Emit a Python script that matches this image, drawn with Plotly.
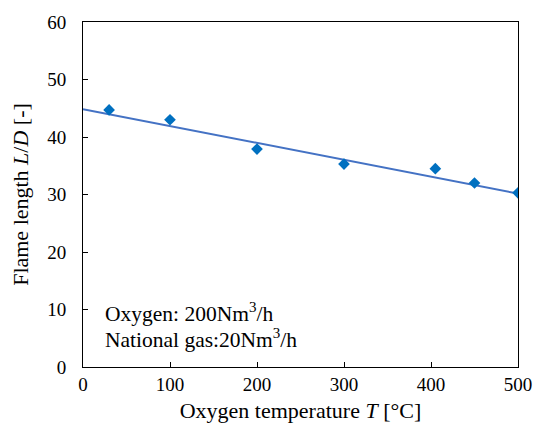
import plotly.graph_objects as go

temperature = [30, 100, 200, 300, 405, 450, 500]
flame_length = [44.7, 43.0, 37.9, 35.3, 34.5, 32.0, 30.3]
trend_x = [0, 500]
trend_y = [44.85, 30.15]   # linear trend line
x_ticks = [0, 100, 200, 300, 400, 500]
y_ticks = [0, 10, 20, 30, 40, 50, 60]

family = "Liberation Serif, Times New Roman, serif"
tick_font = dict(family=family, size=19, color="black")
title_font = dict(family=family, size=22, color="black")
note_font = dict(family=family, size=21.5, color="black")

fig = go.Figure()
fig.add_trace(go.Scatter(x=trend_x, y=trend_y, mode="lines",
                         line=dict(color="#4472C4", width=2), showlegend=False, hoverinfo="skip"))
fig.add_trace(go.Scatter(x=temperature, y=flame_length, mode="markers",
                         marker=dict(symbol="diamond", size=9, color="#0070C0"), showlegend=False))

fig.add_annotation(x=0.045, y=0.157, xref="paper", yref="paper", xanchor="left", yanchor="middle",
                   text="Oxygen: 200Nm<sup>3</sup>/h", showarrow=False, font=note_font)
fig.add_annotation(x=0.045, y=0.083, xref="paper", yref="paper", xanchor="left", yanchor="middle",
                   text="National gas:20Nm<sup>3</sup>/h", showarrow=False, font=note_font)

fig.update_layout(
    width=536, height=433,
    margin=dict(l=83, r=18, t=22, b=66),
    paper_bgcolor="white", plot_bgcolor="white",
    font=tick_font,
    xaxis=dict(range=[0, 500], tickvals=x_ticks, showgrid=False, zeroline=False,
               showline=True, linecolor="black", linewidth=1, mirror=True,
               ticks="inside", ticklen=5, tickcolor="black", automargin=False,
               tickfont=tick_font,
               title=dict(text="Oxygen temperature <i>T</i> [°C]", standoff=8, font=title_font)),
    yaxis=dict(range=[0, 60], tickvals=y_ticks, showgrid=False, zeroline=False,
               showline=True, linecolor="black", linewidth=1, mirror=True,
               ticks="inside", ticklen=5, tickcolor="black", automargin=False,
               tickfont=tick_font, ticklabelstandoff=12,
               title=dict(text="Flame length <i>L</i>/<i>D</i> [-]", standoff=12, font=title_font)),
)

fig.write_html("out.html", config={"displayModeBar": False},
               post_script="document.body.style.margin='0';")
